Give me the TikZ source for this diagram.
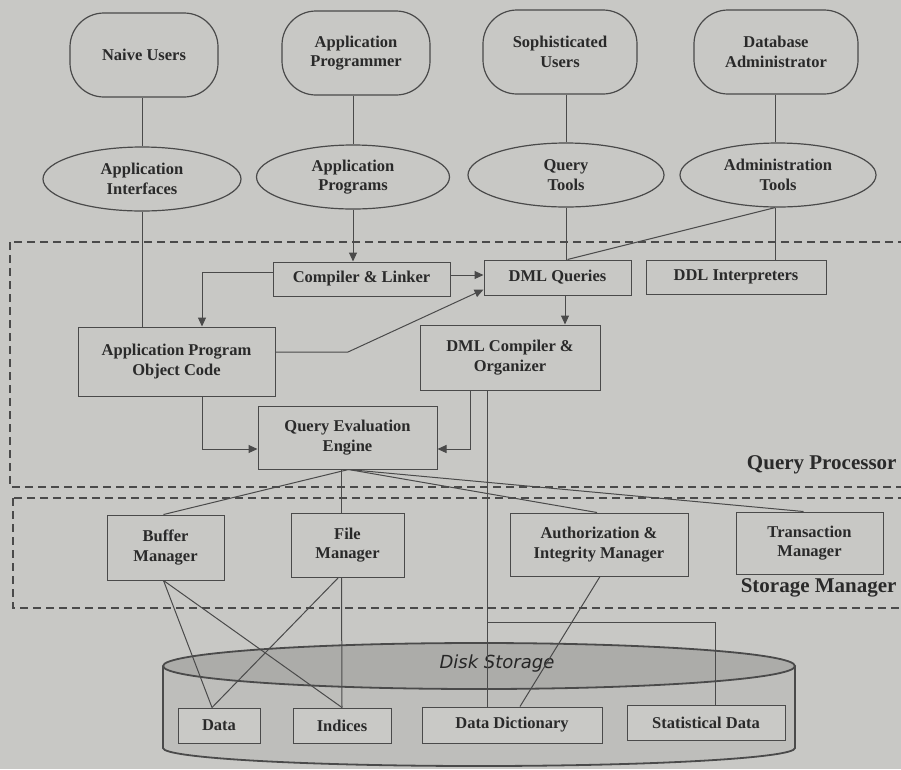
\documentclass[tikz,border=0pt]{standalone}
\usepackage{fontspec}
\setmainfont{Liberation Serif}
\newfontfamily\diskfont{DejaVu Sans}
\usetikzlibrary{arrows.meta,shapes.geometric}
\definecolor{bg}{HTML}{C8C8C5}
\definecolor{ln}{HTML}{4A4A4A}
\definecolor{txt}{HTML}{2A2A2A}
\definecolor{cylbody}{HTML}{BEBEBB}
\definecolor{cyltop}{HTML}{ACACA9}
\definecolor{diskbox}{HTML}{C9C9C6}
\begin{document}
\begin{tikzpicture}[x=1pt,y=-1pt,
  every node/.style={font=\fontsize{16.5}{19.5}\selectfont\bfseries, text=txt, align=center},
  user/.style={draw=ln, line width=1.2pt, rounded corners=34pt, minimum width=148pt, minimum height=84pt, inner sep=0pt},
  tool/.style={draw=ln, ellipse, line width=1.2pt, minimum width=198pt, minimum height=64pt, inner sep=0pt},
  comp/.style={draw=ln, line width=1pt, inner sep=0pt},
  dbox/.style={comp, fill=diskbox},
  conn/.style={draw=ln, line width=1pt},
  arr/.style={conn, -{Triangle[length=9pt,width=8pt]}},
  region/.style={draw=ln, dash pattern=on 8pt off 5pt, line width=1.4pt},
  regionlabel/.style={font=\fontsize{21}{24}\selectfont\bfseries, anchor=east}
]
\useasboundingbox (0,0) rectangle (901,769);
\fill[bg] (0,0) rectangle (901,769);

% regions
\draw[region] (10,242) rectangle (915,487);
\draw[region] (13,498) rectangle (915,608);
\node[regionlabel] (qpl) at (900,465) {Query Processor};
\node[regionlabel] (sml) at (900,588) {Storage Manager};

% disk storage cylinder
\filldraw[fill=cylbody, draw=ln, line width=1.8pt] (163,666) -- (163,748)
  arc[start angle=180, end angle=360, x radius=316pt, y radius=18pt] -- (795,666);
\filldraw[fill=cyltop, draw=ln, line width=1.8pt] (479,666) ellipse [x radius=316pt, y radius=23pt];
\node[font=\diskfont\itshape\fontsize{18}{20}\selectfont, text=black!85] (ds) at (497,664) {Disk Storage};

% users
\node[user] (nu) at (144,55) {Naive Users};
\node[user] (ap) at (356,53) {Application\\Programmer};
\node[user, minimum width=154pt] (su) at (560,52) {Sophisticated\\Users};
\node[user, minimum width=164pt] (dba) at (776,52) {Database\\Administrator};

% tools
\node[tool] (ai) at (142,179) {Application\\Interfaces};
\node[tool, minimum width=193pt] (apr) at (353,177) {Application\\Programs};
\node[tool, minimum width=196pt] (qt) at (566,175) {Query\\Tools};
\node[tool, minimum width=196pt] (adt) at (778,175) {Administration\\Tools};

% query processor
\node[comp, minimum width=177pt, minimum height=34pt] (cl) at (361.5,279) {Compiler \& Linker};
\node[comp, minimum width=147pt, minimum height=35pt] (dq) at (557.5,277.5) {DML Queries};
\node[comp, minimum width=180pt, minimum height=34pt] (ddl) at (736,277) {DDL Interpreters};
\node[comp, minimum width=197pt, minimum height=69pt] (apoc) at (176.5,361.5) {Application Program\\Object Code};
\node[comp, minimum width=180pt, minimum height=65pt] (dmlc) at (510,357.5) {DML Compiler \&\\Organizer};
\node[comp, minimum width=179pt, minimum height=63pt] (qee) at (347.5,437.5) {Query Evaluation\\Engine};

% storage manager
\node[comp, minimum width=117pt, minimum height=65pt] (bm) at (165.5,547.5) {Buffer\\Manager};
\node[comp, minimum width=113pt, minimum height=64pt] (fm) at (347.5,545) {File\\Manager};
\node[comp, minimum width=178pt, minimum height=63pt] (aim) at (599,544.5) {Authorization \&\\Integrity Manager};
\node[comp, minimum width=147pt, minimum height=62pt] (tm) at (809.5,543) {Transaction\\Manager};

% disk contents
\node[dbox, minimum width=82pt, minimum height=35pt] (data) at (219,725.5) {Data};
\node[dbox, minimum width=98pt, minimum height=35pt] (idx) at (342,725.5) {Indices};
\node[dbox, minimum width=180pt, minimum height=36pt] (dd) at (512,725) {Data Dictionary};
\node[dbox, minimum width=158pt, minimum height=35pt] (sd) at (706,722.5) {Statistical Data};

\coordinate (bend1) at (348,352);
\coordinate (j) at (487,622);

% connectors: top
\draw[conn] (nu.south -| ai.north) -- (ai.north);
\draw[conn] (ap.south -| apr.north) -- (apr.north);
\draw[conn] (qt.north |- su.south) -- (qt.north);
\draw[conn] ([xshift=-3pt]adt.north |- dba.south) -- ([xshift=-3pt]adt.north);
\draw[conn] (ai.south) -- (ai.south |- apoc.north);
\draw[arr] (apr.south) -- (apr.south |- cl.north);
\draw[conn] (qt.south) -- (qt.south |- dq.north);
\draw[conn] ([xshift=-3pt]adt.south) -- ([xshift=-3pt]adt.south |- ddl.north);
\draw[conn] ([xshift=-3pt]adt.south) -- ([xshift=10pt]dq.north);

% query processor internals
\draw[arr] ([yshift=4pt]cl.east) -- ([yshift=4pt]cl.east -| dq.west);
\draw[arr] ([yshift=7pt]cl.west) -| ([xshift=25.5pt]apoc.north);
\draw[arr] ([yshift=9.5pt]apoc.east) -- (bend1) -- ([yshift=6pt]dq.south west);
\draw[arr] ([xshift=7.5pt]dq.south) -- ([xshift=7.5pt]dq.south |- dmlc.north);
\draw[arr] ([xshift=25.5pt]apoc.south) |- ([yshift=-11.5pt]qee.west);
\draw[arr] ([xshift=-40pt]dmlc.south) |- ([yshift=-11.5pt]qee.east);
\draw[conn] ([xshift=-23pt]dmlc.south) -- ([xshift=-23pt]dmlc.south |- dd.north);
\draw[conn] (j) -| ([xshift=9pt]sd.north);

% query evaluation engine to storage manager
\draw[conn] ([xshift=1pt]qee.south) -- ([xshift=-2pt]bm.north);
\draw[conn] ([xshift=-6pt]qee.south) -- ([xshift=-6pt]fm.north);
\draw[conn] ([xshift=1pt]qee.south) -- ([xshift=-2pt]aim.north);
\draw[conn] ([xshift=1pt]qee.south) -- ([xshift=-6pt]tm.north);

% storage manager to disk
\draw[conn] ([xshift=-2pt]bm.south) -- ([xshift=-7pt]data.north);
\draw[conn] ([xshift=-2pt]bm.south) -- (idx.north);
\draw[conn] ([xshift=-9pt]fm.south) -- ([xshift=-7pt]data.north);
\draw[conn] ([xshift=-6pt]fm.south) -- (idx.north);
\draw[conn] ([xshift=1pt]aim.south) -- ([xshift=8pt]dd.north);
\end{tikzpicture}
\end{document}
